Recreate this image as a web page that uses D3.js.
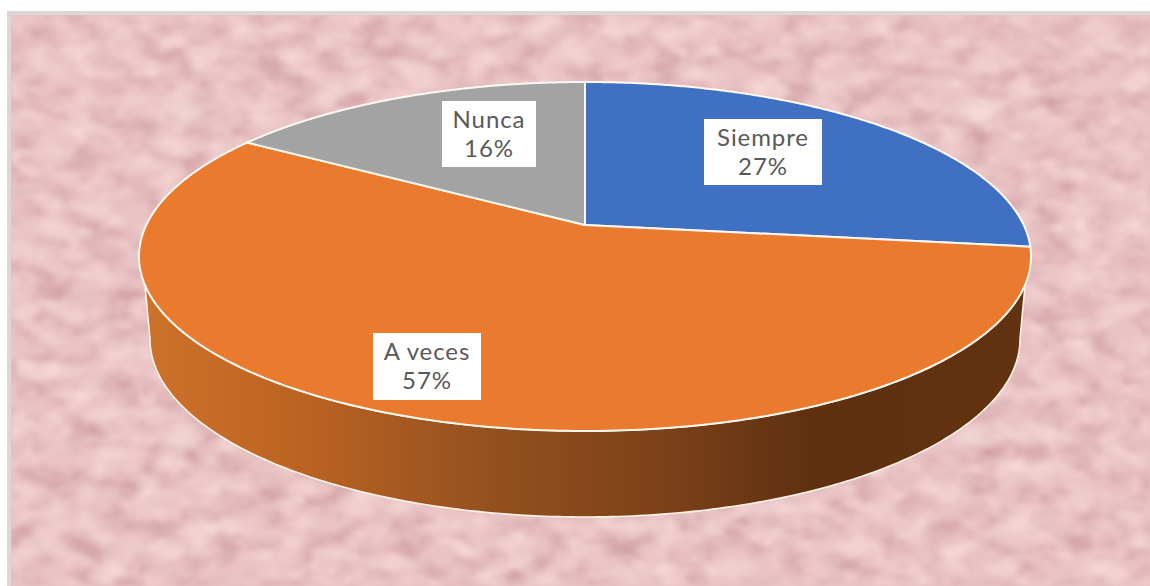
<!DOCTYPE html>
<html><head><meta charset="utf-8">
<style>html,body{margin:0;padding:0;background:#fff}svg{display:block}</style>
<script src="https://cdn.jsdelivr.net/npm/d3@7/dist/d3.min.js"></script>
</head><body><div id="c"></div>
<script>
const categories = ["Siempre", "A veces", "Nunca"];
const values = [27, 57, 16];
const colors = ["#4070c2", "#ea7a2e", "#a3a3a3"];
// label boxes: left, top, right, bottom (layout only)
const labelBoxes = [[704,119,822,185],[373,333,481,400],[442,101,536,167]];
// faint light spots of the background texture (layout only)
const spots = [[182,113],[972,113],[182,440],[972,440]];

const W=1150,H=586;
const svg=d3.select("#c").append("svg").attr("width",W).attr("height",H);
const defs=svg.append("defs");

function noise(id,fx,fy,seed,oct,r,g,b,k,off,blur){
  const f=defs.append("filter").attr("id",id).attr("x",0).attr("y",0).attr("width","100%").attr("height","100%").attr("color-interpolation-filters","sRGB");
  f.append("feTurbulence").attr("type","fractalNoise").attr("baseFrequency",fx+" "+fy).attr("numOctaves",oct).attr("seed",seed);
  f.append("feColorMatrix").attr("type","matrix").attr("values",`0 0 0 0 ${r} 0 0 0 0 ${g} 0 0 0 0 ${b} ${k} 0 0 0 ${off}`);
  f.append("feGaussianBlur").attr("stdDeviation",blur);
}
noise("dark",0.028,0.045,7,4,0.79,0.58,0.60,1.7,-0.70,2.2);
noise("lite",0.032,0.05,21,4,0.97,0.85,0.85,2.0,-0.78,2.2);
defs.append("filter").attr("id","soft").attr("x","-100%").attr("y","-100%").attr("width","300%").attr("height","300%")
  .append("feGaussianBlur").attr("stdDeviation",6);

// background
svg.append("rect").attr("x",7).attr("y",11).attr("width",W-7).attr("height",H-11).attr("fill","#dcd6d4");
const bg=svg.append("g");
bg.append("rect").attr("x",11).attr("y",15).attr("width",W-11).attr("height",H-15).attr("fill","#e9c3c5");
bg.append("rect").attr("x",11).attr("y",15).attr("width",W-11).attr("height",H-15).attr("filter","url(#dark)");
bg.append("rect").attr("x",11).attr("y",15).attr("width",W-11).attr("height",H-15).attr("filter","url(#lite)");
bg.selectAll("ellipse").data(spots).join("ellipse").attr("cx",d=>d[0]).attr("cy",d=>d[1])
  .attr("rx",16).attr("ry",11).attr("fill","#f6e0e0").attr("opacity",0.6).attr("filter","url(#soft)");

// perspective projection of the unit disc
const cx=585, persp=-0.1805, ya=128.2, yb=225, xd=438.7;
function project(angle,rad=1){
  const u=Math.sin(angle)*rad, v=-Math.cos(angle)*rad, w=1+persp*v;
  return [cx+xd*u/w,(ya*v+yb)/w];
}
const line=d3.line();
const TAU=Math.PI*2, deg=Math.PI/180;
const arcs=d3.pie().sort(null).startAngle(0).endAngle(TAU)(values);
const steps=a=>d3.range(0,241).map(i=>a.startAngle+(a.endAngle-a.startAngle)*i/240);

// wall
const grad=defs.append("linearGradient").attr("id","wall").attr("gradientUnits","userSpaceOnUse")
  .attr("x1",143).attr("x2",1028).attr("y1",0).attr("y2",0);
[[0,"#cd722b"],[0.18,"#bb6322"],[0.4,"#92501f"],[0.6,"#7a4019"],[0.76,"#5e3010"],[1,"#633210"]]
  .forEach(s=>grad.append("stop").attr("offset",s[0]).attr("stop-color",s[1]));
const wallTop=d3.range(0,201).map(i=>project((109.5+(250.5-109.5)*i/200)*deg));
const bottomEllipse=d3.range(0,201).map(i=>{const t=Math.PI*i/200;return [cx-435*Math.cos(t),339+178*Math.sin(t)];});
svg.append("path").attr("d",line(wallTop.concat(bottomEllipse))+"Z")
  .attr("fill","url(#wall)").attr("stroke","#fff4e4").attr("stroke-width",1.6).attr("stroke-linejoin","round");

// slices
svg.append("g").selectAll("path").data(arcs).join("path")
  .attr("d",a=>line([project(0,0)].concat(steps(a).map(t=>project(t))))+"Z")
  .attr("fill",(a,i)=>colors[i]).attr("stroke","#fff8f0").attr("stroke-width",2).attr("stroke-linejoin","round");

// labels
const lab=svg.append("g").selectAll("g").data(arcs).join("g");
lab.append("rect")
  .attr("x",(a,i)=>labelBoxes[i][0]).attr("y",(a,i)=>labelBoxes[i][1])
  .attr("width",(a,i)=>labelBoxes[i][2]-labelBoxes[i][0]).attr("height",(a,i)=>labelBoxes[i][3]-labelBoxes[i][1])
  .attr("fill","#fff");
const tx=(a,i)=>(labelBoxes[i][0]+labelBoxes[i][2])/2;
const txt=(sel,fn,dy)=>sel.append("text").attr("x",tx).attr("y",(a,i)=>labelBoxes[i][1]+dy)
  .attr("text-anchor","middle").attr("font-family","Lato,sans-serif").attr("font-size",24).attr("letter-spacing",0.9).attr("fill","#595959").text(fn);
txt(lab,(a,i)=>categories[i],27);
txt(lab,(a,i)=>values[i]+"%",56);
</script></body></html>
